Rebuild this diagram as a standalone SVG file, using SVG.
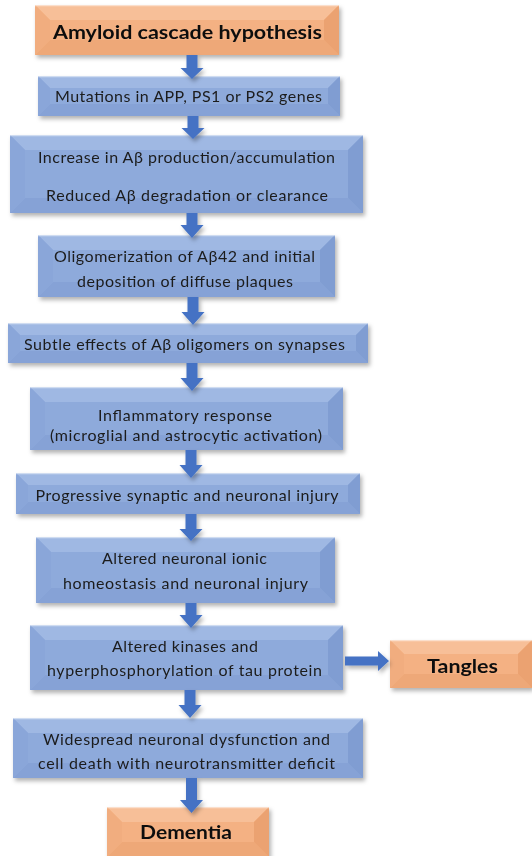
<svg xmlns="http://www.w3.org/2000/svg" width="532" height="856" viewBox="0 0 532 856">
<style>
.t{font-family:Lato,"Open Sans","Liberation Sans",sans-serif;font-size:16px;fill:#1c1c1c;text-anchor:middle}
.b{font-family:Lato,"Open Sans","Liberation Sans",sans-serif;font-weight:bold;font-size:18px;fill:#111;text-anchor:middle}
.bc{fill:#8eaadb}
.btop{fill:#9fb8e3}
.bbot{fill:#86a2d6}
.bl{fill:#8aa6d9}
.br{fill:#809dd2}
.oc{fill:#f4b183}
.otop{fill:#f7bf98}
.obot{fill:#eea878}
.ol{fill:#f1ad7f}
.or{fill:#eba271}
.hl{stroke:#ffffff;stroke-opacity:0.5;stroke-width:1.2;fill:none}
.arr{fill:#4472c4}
</style>
<defs>
<filter id="sh" x="-10%" y="-20%" width="120%" height="150%">
<feDropShadow dx="2" dy="3" stdDeviation="2" flood-color="#000" flood-opacity="0.3"/>
</filter>
</defs>

<g id="n1" filter="url(#sh)">
<rect class="oc" x="35" y="5" width="304" height="50"/>
<polygon class="otop" points="35,5 339,5 324,20 50,20"/>
<polygon class="obot" points="35,55 339,55 324,40 50,40"/>
<polygon class="ol" points="35,5 50,20 50,40 35,55"/>
<polygon class="or" points="339,5 324,20 324,40 339,55"/>
<line class="hl" x1="35" y1="5.6" x2="339" y2="5.6"/>
<text class="b" x="187.5" y="39" textLength="269" lengthAdjust="spacingAndGlyphs">Amyloid cascade hypothesis</text>
</g>

<g id="n2" filter="url(#sh)">
<rect class="bc" x="38" y="76" width="302" height="40"/>
<polygon class="btop" points="38,76 340,76 328,88 50,88"/>
<polygon class="bbot" points="38,116 340,116 328,104 50,104"/>
<polygon class="bl" points="38,76 50,88 50,104 38,116"/>
<polygon class="br" points="340,76 328,88 328,104 340,116"/>
<line class="hl" x1="38" y1="76.6" x2="340" y2="76.6"/>
<text class="t" x="188.5" y="102" textLength="267" lengthAdjust="spacing">Mutations in APP, PS1 or PS2 genes</text>
</g>

<g id="n3" filter="url(#sh)">
<rect class="bc" x="10" y="135" width="353" height="78"/>
<polygon class="btop" points="10,135 363,135 348,150 25,150"/>
<polygon class="bbot" points="10,213 363,213 348,198 25,198"/>
<polygon class="bl" points="10,135 25,150 25,198 10,213"/>
<polygon class="br" points="363,135 348,150 348,198 363,213"/>
<line class="hl" x1="10" y1="135.6" x2="363" y2="135.6"/>
<text class="t" x="186.5" y="163" textLength="297" lengthAdjust="spacing">Increase in Aβ production/accumulation</text>
<text class="t" x="187" y="200.5" textLength="282" lengthAdjust="spacing">Reduced Aβ degradation  or clearance</text>
</g>

<g id="n4" filter="url(#sh)">
<rect class="bc" x="38" y="235" width="297" height="62"/>
<polygon class="btop" points="38,235 335,235 320,250 53,250"/>
<polygon class="bbot" points="38,297 335,297 320,282 53,282"/>
<polygon class="bl" points="38,235 53,250 53,282 38,297"/>
<polygon class="br" points="335,235 320,250 320,282 335,297"/>
<line class="hl" x1="38" y1="235.6" x2="335" y2="235.6"/>
<text class="t" x="184.5" y="262" textLength="261" lengthAdjust="spacing">Oligomerization  of  Aβ42  and  initial</text>
<text class="t" x="185" y="287" textLength="216" lengthAdjust="spacing">deposition  of diffuse  plaques</text>
</g>

<g id="n5" filter="url(#sh)">
<rect class="bc" x="8" y="323" width="360" height="40"/>
<polygon class="btop" points="8,323 368,323 356,335 20,335"/>
<polygon class="bbot" points="8,363 368,363 356,351 20,351"/>
<polygon class="bl" points="8,323 20,335 20,351 8,363"/>
<polygon class="br" points="368,323 356,335 356,351 368,363"/>
<line class="hl" x1="8" y1="323.6" x2="368" y2="323.6"/>
<text class="t" x="184.5" y="350" textLength="321" lengthAdjust="spacing">Subtle effects of Aβ oligomers on synapses</text>
</g>

<g id="n6" filter="url(#sh)">
<rect class="bc" x="30" y="387" width="313" height="63"/>
<polygon class="btop" points="30,387 343,387 328,402 45,402"/>
<polygon class="bbot" points="30,450 343,450 328,435 45,435"/>
<polygon class="bl" points="30,387 45,402 45,435 30,450"/>
<polygon class="br" points="343,387 328,402 328,435 343,450"/>
<line class="hl" x1="30" y1="387.6" x2="343" y2="387.6"/>
<text class="t" x="185" y="421" textLength="174" lengthAdjust="spacing">Inflammatory  response</text>
<text class="t" x="186" y="441" textLength="272" lengthAdjust="spacing">(microglial  and astrocytic activation)</text>
</g>

<g id="n7" filter="url(#sh)">
<rect class="bc" x="16" y="473" width="344" height="41"/>
<polygon class="btop" points="16,473 360,473 348,485 28,485"/>
<polygon class="bbot" points="16,514 360,514 348,502 28,502"/>
<polygon class="bl" points="16,473 28,485 28,502 16,514"/>
<polygon class="br" points="360,473 348,485 348,502 360,514"/>
<line class="hl" x1="16" y1="473.6" x2="360" y2="473.6"/>
<text class="t" x="187" y="501" textLength="303" lengthAdjust="spacing">Progressive synaptic  and neuronal  injury</text>
</g>

<g id="n8" filter="url(#sh)">
<rect class="bc" x="36" y="537" width="299" height="66"/>
<polygon class="btop" points="36,537 335,537 320,552 51,552"/>
<polygon class="bbot" points="36,603 335,603 320,588 51,588"/>
<polygon class="bl" points="36,537 51,552 51,588 36,603"/>
<polygon class="br" points="335,537 320,552 320,588 335,603"/>
<line class="hl" x1="36" y1="537.6" x2="335" y2="537.6"/>
<text class="t" x="184.5" y="564" textLength="165" lengthAdjust="spacing">Altered neuronal ionic</text>
<text class="t" x="185.5" y="589" textLength="245" lengthAdjust="spacing">homeostasis and  neuronal  injury</text>
</g>

<g id="n9" filter="url(#sh)">
<rect class="bc" x="30" y="625" width="313" height="65"/>
<polygon class="btop" points="30,625 343,625 328,640 45,640"/>
<polygon class="bbot" points="30,690 343,690 328,675 45,675"/>
<polygon class="bl" points="30,625 45,640 45,675 30,690"/>
<polygon class="br" points="343,625 328,640 328,675 343,690"/>
<line class="hl" x1="30" y1="625.6" x2="343" y2="625.6"/>
<text class="t" x="185" y="652" textLength="146" lengthAdjust="spacing">Altered kinases and</text>
<text class="t" x="184.5" y="676" textLength="275" lengthAdjust="spacing">hyperphosphorylation  of tau protein</text>
</g>

<g id="n11" filter="url(#sh)">
<rect class="oc" x="390" y="640" width="142" height="48"/>
<polygon class="otop" points="390,640 532,640 518,654 404,654"/>
<polygon class="obot" points="390,688 532,688 518,674 404,674"/>
<polygon class="ol" points="390,640 404,654 404,674 390,688"/>
<polygon class="or" points="532,640 518,654 518,674 532,688"/>
<line class="hl" x1="390" y1="640.6" x2="532" y2="640.6"/>
<text class="b" x="462.5" y="673" font-size="19" textLength="71" lengthAdjust="spacingAndGlyphs">Tangles</text>
</g>

<g id="n10" filter="url(#sh)">
<rect class="bc" x="13" y="718" width="350" height="60"/>
<polygon class="btop" points="13,718 363,718 348,733 28,733"/>
<polygon class="bbot" points="13,778 363,778 348,763 28,763"/>
<polygon class="bl" points="13,718 28,733 28,763 13,778"/>
<polygon class="br" points="363,718 348,733 348,763 363,778"/>
<line class="hl" x1="13" y1="718.6" x2="363" y2="718.6"/>
<text class="t" x="186.5" y="745" textLength="287" lengthAdjust="spacing">Widespread  neuronal  dysfunction  and</text>
<text class="t" x="186.5" y="769" textLength="297" lengthAdjust="spacing">cell death with neurotransmitter  deficit</text>
</g>

<g id="n12" filter="url(#sh)">
<rect class="oc" x="107" y="807" width="162" height="50"/>
<polygon class="otop" points="107,807 269,807 254,822 122,822"/>
<polygon class="obot" points="107,857 269,857 254,842 122,842"/>
<polygon class="ol" points="107,807 122,822 122,842 107,857"/>
<polygon class="or" points="269,807 254,822 254,842 269,857"/>
<line class="hl" x1="107" y1="807.6" x2="269" y2="807.6"/>
<text class="b" x="186" y="839" textLength="92" lengthAdjust="spacingAndGlyphs">Dementia</text>
</g>

<g id="connectors" filter="url(#sh)">
<path class="arr" d="M186.5,55 H197.5 V68 H203.5 L192,79 L180.5,68 H186.5 Z"/>
<path class="arr" d="M187.5,116 H198.5 V128 H204.5 L193,139 L181.5,128 H187.5 Z"/>
<path class="arr" d="M186.5,213 H197.5 V225 H203.5 L192,238 L180.5,225 H186.5 Z"/>
<path class="arr" d="M187.5,297 H198.5 V312 H204.5 L193,325 L181.5,312 H187.5 Z"/>
<path class="arr" d="M186.5,363 H197.5 V378 H203.5 L192,391 L180.5,378 H186.5 Z"/>
<path class="arr" d="M185.5,450 H196.5 V465 H202.5 L191,478 L179.5,465 H185.5 Z"/>
<path class="arr" d="M185.5,514 H196.5 V529 H202.5 L191,541 L179.5,529 H185.5 Z"/>
<path class="arr" d="M185.5,603 H196.5 V615 H202.5 L191,628 L179.5,615 H185.5 Z"/>
<path class="arr" d="M184.5,690 H195.5 V705 H201.5 L190,718 L178.5,705 H184.5 Z"/>
<path class="arr" d="M186,778 H197 V800 H203 L191.5,813 L180,800 H186 Z"/>
<path class="arr" d="M345,656.5 H378 V651 L389,661 L378,671 V665.5 H345 Z"/>
</g>
</svg>
